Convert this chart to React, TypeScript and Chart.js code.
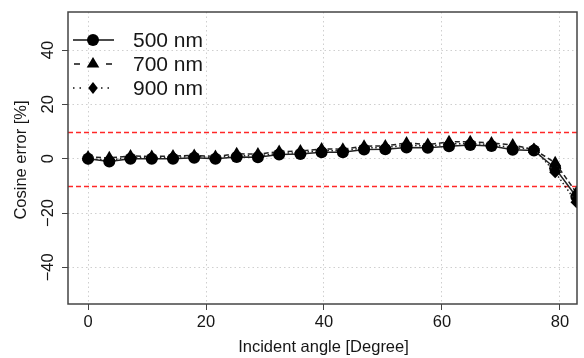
import React, { useEffect, useRef } from 'react';
import { Chart, registerables } from 'chart.js';

Chart.register(...registerables);

const angles = [0, 3.6, 7.2, 10.8, 14.4, 18, 21.6, 25.2, 28.8, 32.4, 36, 39.6, 43.2, 46.8, 50.4, 54, 57.6, 61.2, 64.8, 68.4, 72, 75.6, 79.2, 82.8];
const err500 = [0, -1, 0, 0, 0, 0.3, 0, 0.6, 0.5, 1.5, 1.7, 2.4, 2.4, 3.4, 3.5, 4.1, 4.0, 4.6, 5.0, 4.7, 3.3, 3.0, -3.5, -14];
const err700 = [0.6, 0.3, 1, 0.8, 1, 1.2, 0.8, 1.8, 1.7, 2.6, 2.8, 3.6, 3.5, 4.6, 4.7, 5.8, 5.2, 6.2, 6.2, 5.8, 5.0, 3.4, -1.5, -12.5];
const err900 = [0, -0.5, 0.4, 0.4, 0.5, 0.8, 0.4, 1.1, 1.0, 2.0, 2.2, 3.0, 2.9, 4.0, 4.1, 5.0, 4.6, 5.4, 5.6, 5.2, 4.0, 3.6, -5, -16];
const seriesNames = ['500 nm', '700 nm', '900 nm'];
const xTicks = [0, 20, 40, 60, 80];
const yTicks = [-40, -20, 0, 20, 40];
const limitLines = [10, -10];
const xTitle = 'Incident angle [Degree]';
const yTitle = 'Cosine error [%]';

const FONT = '"Liberation Sans", Arial, sans-serif';
const TEXT_COLOR = '#161616';
const LINE_DASHES: number[][] = [[], [5, 3], [1.5, 2.5]];
const POINT_STYLES = ['circle', 'triangle', 'rectRot'];
const POINT_RADII = [6, 7, 6];

function drawMarker(ctx: CanvasRenderingContext2D, style: string, x: number, y: number, r: number) {
  ctx.beginPath();
  if (style === 'circle') {
    ctx.arc(x, y, r, 0, Math.PI * 2);
  } else if (style === 'triangle') {
    const h = r * 1.5;
    ctx.moveTo(x, y - r);
    ctx.lineTo(x + r * 0.9, y + h - r);
    ctx.lineTo(x - r * 0.9, y + h - r);
    ctx.closePath();
  } else {
    ctx.moveTo(x, y - r);
    ctx.lineTo(x + r * 0.8, y);
    ctx.lineTo(x, y + r);
    ctx.lineTo(x - r * 0.8, y);
    ctx.closePath();
  }
  ctx.fill();
}

const customPlugin = {
  id: 'customDecor',
  beforeDatasetsDraw(chart: any) {
    const { ctx, chartArea: a, scales } = chart;
    const y = scales.y;
    limitLines.forEach((v) => {
      const py = Math.round(y.getPixelForValue(v)) + 0.5;
      ctx.save();
      ctx.globalAlpha = 1;
      ctx.strokeStyle = 'rgb(255, 40, 40)';
      ctx.lineWidth = 1.3;
      ctx.setLineDash([5, 3]);
      ctx.beginPath();
      ctx.moveTo(a.left, py);
      ctx.lineTo(a.right, py);
      ctx.stroke();
      ctx.restore();
    });
  },
  afterDraw(chart: any) {
    const { ctx, chartArea: a, scales } = chart;
    const y = scales.y;
    ctx.save();
    // box
    ctx.strokeStyle = '#444';
    ctx.lineWidth = 1.5;
    ctx.setLineDash([]);
    ctx.strokeRect(a.left, a.top, a.right - a.left, a.bottom - a.top);

    // y tick labels, rotated
    ctx.fillStyle = TEXT_COLOR;
    ctx.font = `16.5px ${FONT}`;
    ctx.textAlign = 'center';
    ctx.textBaseline = 'middle';
    yTicks.forEach((v) => {
      const py = y.getPixelForValue(v);
      ctx.save();
      ctx.translate(48, py);
      ctx.rotate(-Math.PI / 2);
      ctx.fillText(v < 0 ? '\u2212' + Math.abs(v) : String(v), 0, 0);
      ctx.restore();
    });

    // y title
    ctx.save();
    ctx.translate(21, (a.top + a.bottom) / 2 + 2);
    ctx.rotate(-Math.PI / 2);
    ctx.fillText(yTitle, 0, 0);
    ctx.restore();

    // x title
    ctx.fillText(xTitle, (a.left + a.right) / 2 + 1, 347);

    // legend
    const rows = [40, 64, 88];
    ctx.font = `21px ${FONT}`;
    ctx.textAlign = 'left';
    rows.forEach((ry, i) => {
      ctx.strokeStyle = '#111';
      ctx.lineWidth = 1.5;
      if (i === 0) {
        ctx.setLineDash([]);
        ctx.beginPath();
        ctx.moveTo(73, ry);
        ctx.lineTo(114, ry);
        ctx.stroke();
      } else if (i === 1) {
        ctx.setLineDash([]);
        ctx.beginPath();
        ctx.moveTo(74, ry);
        ctx.lineTo(80, ry);
        ctx.moveTo(106, ry);
        ctx.lineTo(112, ry);
        ctx.stroke();
      } else {
        ctx.setLineDash([1.5, 5]);
        ctx.beginPath();
        ctx.moveTo(73, ry);
        ctx.lineTo(86, ry);
        ctx.moveTo(101, ry);
        ctx.lineTo(114, ry);
        ctx.stroke();
      }
      ctx.setLineDash([]);
      ctx.fillStyle = '#000';
      drawMarker(ctx, POINT_STYLES[i], 93, ry, POINT_RADII[i]);
      ctx.fillStyle = TEXT_COLOR;
      ctx.fillText(seriesNames[i], 133, ry + 1);
    });
    ctx.restore();
  },
};

export default function App() {
  const canvasRef = useRef<HTMLCanvasElement | null>(null);

  useEffect(() => {
    document.body.style.margin = '0';
    const canvas = canvasRef.current;
    if (!canvas) return;
    const seriesValues = [err500, err700, err900];
    const datasets = seriesValues.map((vals, i) => ({
      label: seriesNames[i],
      data: angles.map((a, j) => ({ x: a, y: vals[j] })),
      borderColor: '#222',
      borderWidth: 1.5,
      borderDash: LINE_DASHES[i],
      backgroundColor: '#000',
      pointBackgroundColor: '#000',
      pointBorderColor: '#000',
      pointBorderWidth: 0,
      pointStyle: POINT_STYLES[i],
      pointRadius: POINT_RADII[i],
      tension: 0,
      fill: false,
      order: 3 - i,
    }));

    const chart = new Chart(canvas, {
      type: 'line',
      data: { datasets },
      plugins: [customPlugin],
      options: {
        animation: false,
        responsive: true,
        maintainAspectRatio: false,
        layout: { padding: { top: 12, right: 3, left: 0, bottom: 0 } },
        plugins: { legend: { display: false }, tooltip: { enabled: false } },
        scales: {
          x: {
            type: 'linear',
            min: -3.4,
            max: 82.9,
            afterBuildTicks: (s: any) => {
              s.ticks = xTicks.map((v) => ({ value: v }));
            },
            afterFit: (s: any) => {
              s.height = 54;
            },
            grid: {
              color: '#cfcfcf',
              lineWidth: 1,
              drawTicks: true,
              tickLength: 6,
              tickColor: '#444',
              tickWidth: 1,
              tickBorderDash: [],
            },
            border: { display: false, dash: [1.5, 3] },
            ticks: {
              color: TEXT_COLOR,
              font: { family: FONT, size: 16.5 },
              padding: 3,
              maxRotation: 0,
              minRotation: 0,
            },
          },
          y: {
            type: 'linear',
            min: -53.5,
            max: 54,
            afterBuildTicks: (s: any) => {
              s.ticks = yTicks.map((v) => ({ value: v }));
            },
            afterFit: (s: any) => {
              s.width = 68;
            },
            grid: {
              color: '#cfcfcf',
              lineWidth: 1,
              drawTicks: true,
              tickLength: 6,
              tickColor: '#444',
              tickWidth: 1,
              tickBorderDash: [],
            },
            border: { display: false, dash: [1.5, 3] },
            ticks: { display: false },
          },
        },
      },
    } as any);
    return () => chart.destroy();
  }, []);

  return (
    <div style={{ position: 'relative', width: 584, height: 358 }}>
      <canvas ref={canvasRef} />
    </div>
  );
}
